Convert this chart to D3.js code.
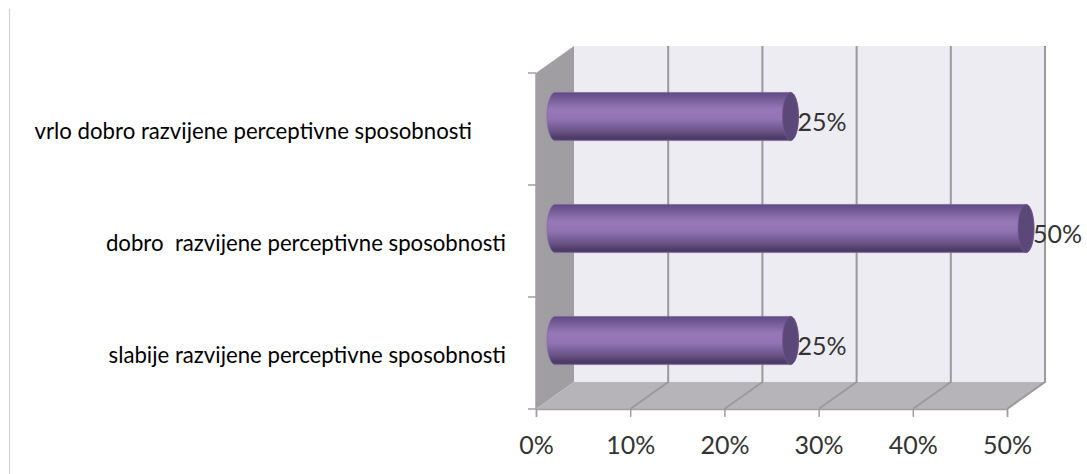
<!DOCTYPE html>
<html>
<head>
<meta charset="utf-8">
<script src="https://cdn.jsdelivr.net/npm/d3@7"></script>
<style>
  html, body { margin: 0; padding: 0; background: #fff; }
  svg { display: block; }
  text { font-family: Lato, "Open Sans", sans-serif; }
</style>
</head>
<body>
<div id="chart"></div>
<script>
// Data
const categories = [
    'vrlo dobro razvijene perceptivne sposobnosti',
    'dobro  razvijene perceptivne sposobnosti',
    'slabije razvijene perceptivne sposobnosti'
];
const values = [25, 50, 25];
const ticks = [0, 10, 20, 30, 40, 50];

const width = 1087;
const height = 474;

// Plot box (front plane) and the fake 3D depth
const plotLeft = 536, plotRight = 1007, plotTop = 73, plotBottom = 409;
const depthX = 38, depthY = -27;

const svg = d3.select('#chart').append('svg')
    .attr('width', width)
    .attr('height', height);

const x = d3.scaleLinear().domain([0, 50]).range([plotLeft, plotRight]);
const yBounds = d3.scaleBand().domain(categories).range([plotTop, plotBottom]);
const y = d3.scaleBand().domain(categories).range([plotTop, plotBottom]).paddingInner(0.57).paddingOuter(0.285);

// Gradient for the cylinders
const defs = svg.append('defs');
const grad = defs.append('linearGradient')
    .attr('id', 'barGrad')
    .attr('x1', 0).attr('y1', 0).attr('x2', 0).attr('y2', 1);
[[0, '#5f4a80'], [0.08, '#6d5590'], [0.35, '#9678b8'], [0.55, '#9273b3'], [0.8, '#6b5489'], [0.95, '#4b3a62'], [1, '#5a4675']]
    .forEach(s => grad.append('stop').attr('offset', s[0]).attr('stop-color', s[1]));

// Stray border line on the left of the picture
svg.append('line')
    .attr('x1', 9.5).attr('x2', 9.5).attr('y1', 9).attr('y2', 474)
    .attr('stroke', '#d0d0d0').attr('stroke-width', 1);

const poly = pts => 'M' + pts.map(p => p.join(',')).join('L') + 'Z';

// Back wall
svg.append('path')
    .attr('d', poly([[plotLeft + depthX, plotTop + depthY], [plotRight + depthX, plotTop + depthY], [plotRight + depthX, plotBottom + depthY], [plotLeft + depthX, plotBottom + depthY]]))
    .attr('fill', '#eeecf3');

// Side wall
svg.append('path')
    .attr('d', poly([[plotLeft, plotTop], [plotLeft + depthX, plotTop + depthY], [plotLeft + depthX, plotBottom + depthY], [plotLeft, plotBottom]]))
    .attr('fill', '#a09ea3');

// Floor
svg.append('path')
    .attr('d', poly([[plotLeft, plotBottom], [plotLeft + depthX, plotBottom + depthY], [plotRight + depthX, plotBottom + depthY], [plotRight, plotBottom]]))
    .attr('fill', '#b6b4b9');

// Gridlines, up the wall and along the floor
svg.append('g').selectAll('path')
    .data(ticks.slice(1))
    .enter().append('path')
    .attr('d', d => `M${x(d) + depthX},${plotTop + depthY}L${x(d) + depthX},${plotBottom + depthY}L${x(d)},${plotBottom}`)
    .attr('fill', 'none')
    .attr('stroke', '#9a9a9a')
    .attr('stroke-width', 2);

// Axis lines with ticks
const xAxis = svg.append('g')
    .attr('transform', `translate(0,${plotBottom})`)
    .call(d3.axisBottom(x).tickValues(ticks).tickFormat(d => d + '%').tickSize(8).tickPadding(19));
xAxis.select('.domain').attr('stroke', '#a0a0a0').attr('stroke-width', 1.5);
xAxis.selectAll('.tick line').attr('stroke', '#a0a0a0').attr('stroke-width', 1.5);
xAxis.selectAll('text')
    .attr('fill', '#333')
    .style('font-size', '25px')
    .style('font-family', 'Lato, sans-serif');

svg.append('line')
    .attr('x1', plotLeft).attr('x2', plotLeft).attr('y1', plotTop).attr('y2', plotBottom)
    .attr('stroke', '#a0a0a0').attr('stroke-width', 1.5);
svg.append('g').selectAll('line')
    .data(d3.range(categories.length + 1))
    .enter().append('line')
    .attr('x1', plotLeft - 8).attr('x2', plotLeft)
    .attr('y1', i => plotTop + i * yBounds.step())
    .attr('y2', i => plotTop + i * yBounds.step())
    .attr('stroke', '#a0a0a0').attr('stroke-width', 1.5);

// Bars sit at mid depth
const midX = depthX / 2;
const midY = depthY / 2 + 1;
const rx = 8;

const bars = svg.append('g').selectAll('g')
    .data(categories.map((c, i) => ({ cat: c, val: values[i] })))
    .enter().append('g');

bars.append('path')
    .attr('d', d => {
        const t = y(d.cat) + midY, b = t + y.bandwidth(), r = y.bandwidth() / 2;
        const x0 = x(0) + midX, x1 = x(d.val) + midX;
        return `M${x0},${t}L${x1},${t}A${rx},${r} 0 0 1 ${x1},${b}L${x0},${b}A${rx},${r} 0 0 1 ${x0},${t}Z`;
    })
    .attr('fill', 'url(#barGrad)')
    .attr('stroke', '#7d66a0')
    .attr('stroke-width', 0.7);

bars.append('ellipse')
    .attr('cx', d => x(d.val) + midX)
    .attr('cy', d => y(d.cat) + midY + y.bandwidth() / 2)
    .attr('rx', rx)
    .attr('ry', y.bandwidth() / 2)
    .attr('fill', '#5c4878')
    .attr('stroke', '#705792')
    .attr('stroke-width', 0.7);

// Value labels
bars.append('text')
    .attr('x', d => x(d.val) + midX + rx - 1)
    .attr('y', d => y(d.cat) + midY + y.bandwidth() / 2 + 6)
    .attr('dy', '0.35em')
    .attr('fill', '#333')
    .style('font-size', '25px')
    .text(d => d.val + '%');

// Category labels, placed by hand like the original
const labelRight = [472, 506, 506];
svg.append('g').selectAll('text')
    .data(categories)
    .enter().append('text')
    .attr('x', (d, i) => labelRight[i])
    .attr('y', d => y(d) + y.bandwidth() / 2 + 10)
    .attr('text-anchor', 'end')
    .attr('fill', '#000')
    .style('font-size', '22.2px')
    .style('white-space', 'pre')
    .text(d => d);
</script>
</body>
</html>
